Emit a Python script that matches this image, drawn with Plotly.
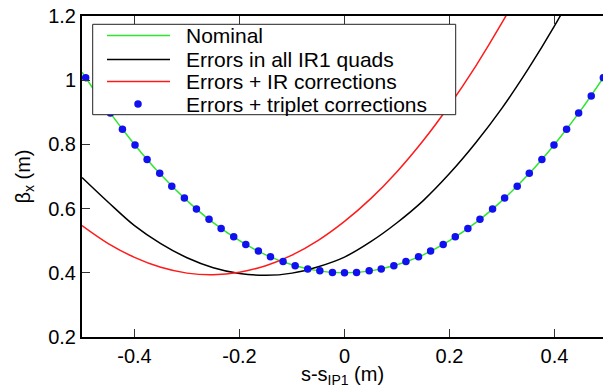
import plotly.graph_objects as go

# ---- data: horizontal beta function around IP1 ----
s_nominal = [-0.50, -0.45, -0.40, -0.35, -0.30, -0.25, -0.20, -0.15, -0.10, -0.05, 0.00,
             0.05, 0.10, 0.15, 0.20, 0.25, 0.30, 0.35, 0.40, 0.45, 0.50]
beta_nominal = [1.025, 0.906, 0.800, 0.706, 0.625, 0.556, 0.500, 0.456, 0.425, 0.406, 0.400,
                0.406, 0.425, 0.456, 0.500, 0.556, 0.625, 0.706, 0.800, 0.906, 1.025]

s_errors = [-0.50, -0.45, -0.40, -0.35, -0.30, -0.25, -0.20, -0.15, -0.10, -0.05, 0.00,
            0.05, 0.10, 0.15, 0.20, 0.25, 0.30, 0.35, 0.40, 0.45]
beta_errors = [0.697, 0.620, 0.547, 0.491, 0.447, 0.416, 0.398, 0.392, 0.399, 0.419, 0.449,
               0.497, 0.556, 0.625, 0.709, 0.805, 0.913, 1.035, 1.169, 1.316]

s_ir_corr = [-0.50, -0.45, -0.40, -0.35, -0.30, -0.25, -0.20, -0.15, -0.10, -0.05, 0.00,
             0.05, 0.10, 0.15, 0.20, 0.25, 0.30, 0.35]
beta_ir_corr = [0.547, 0.491, 0.448, 0.417, 0.399, 0.394, 0.402, 0.422, 0.455, 0.501, 0.560,
                0.631, 0.715, 0.812, 0.922, 1.044, 1.179, 1.327]

s_triplet = [-0.493, -0.470, -0.446, -0.423, -0.399, -0.376, -0.352, -0.329, -0.305, -0.282,
             -0.258, -0.235, -0.211, -0.188, -0.164, -0.141, -0.117, -0.094, -0.070, -0.047,
             -0.023, 0.000, 0.023, 0.047, 0.070, 0.094, 0.117, 0.141, 0.164, 0.188,
             0.211, 0.235, 0.258, 0.282, 0.305, 0.329, 0.352, 0.376, 0.399, 0.423,
             0.446, 0.470, 0.493]
beta_triplet = [1.008, 0.951, 0.898, 0.847, 0.798, 0.753, 0.710, 0.670, 0.633, 0.599,
                0.567, 0.538, 0.512, 0.488, 0.468, 0.450, 0.435, 0.422, 0.412, 0.406,
                0.401, 0.400, 0.401, 0.406, 0.412, 0.422, 0.435, 0.450, 0.468, 0.488,
                0.512, 0.538, 0.567, 0.599, 0.633, 0.670, 0.710, 0.753, 0.798, 0.847,
                0.898, 0.951, 1.008]

legend_labels = ["Nominal", "Errors in all IR1 quads", "Errors + IR corrections",
                 "Errors + triplet corrections"]

x_tickvals = [-0.4, -0.2, 0.0, 0.2, 0.4]
x_ticktext = ["-0.4", "-0.2", "0", "0.2", "0.4"]
y_tickvals = [0.2, 0.4, 0.6, 0.8, 1.0, 1.2]
y_ticktext = ["0.2", "0.4", "0.6", "0.8", "1", "1.2"]

# ---- layout constants ----
W, H = 603, 388
ML, MR, MT, MB = 82, 0, 16, 51
PW, PH = W - ML - MR, H - MT - MB
FONT = "Liberation Sans, Arial, Helvetica, sans-serif"

GREEN = "#2ee62e"
BLUE = "#1010f0"
RED = "#ff1a1a"
BLACK = "#000000"


def paper(px, py):
    """Convert a pixel position in the figure to paper coordinates."""
    return (px - ML) / PW, (H - MB - py) / PH


fig = go.Figure()

fig.add_trace(go.Scatter(x=s_nominal, y=beta_nominal, mode="lines",
                         line=dict(color=GREEN, width=1.5, shape="spline"),
                         name=legend_labels[0]))
fig.add_trace(go.Scatter(x=s_errors, y=beta_errors, mode="lines",
                         line=dict(color=BLACK, width=1.5, shape="spline"),
                         name=legend_labels[1]))
fig.add_trace(go.Scatter(x=s_ir_corr, y=beta_ir_corr, mode="lines",
                         line=dict(color=RED, width=1.5, shape="spline"),
                         name=legend_labels[2]))
fig.add_trace(go.Scatter(x=s_triplet, y=beta_triplet, mode="markers",
                         marker=dict(color=BLUE, size=7.5, line=dict(width=0)),
                         name=legend_labels[3]))

# ---- hand-drawn legend box ----
shapes = []
annotations = []
bx0, by0 = paper(92.7, 24.3)
bx1, by1 = paper(455.7, 114.7)
shapes.append(dict(type="rect", xref="paper", yref="paper", x0=bx0, y0=by1, x1=bx1, y1=by0,
                   line=dict(color="#222222", width=1), fillcolor="white", layer="above"))

row_y = [35.5, 59.5, 81.5, 104.0]
sample_colors = [GREEN, BLACK, RED]
for i, c in enumerate(sample_colors):
    x0, y = paper(107, row_y[i])
    x1, _ = paper(170, row_y[i])
    shapes.append(dict(type="line", xref="paper", yref="paper", x0=x0, y0=y, x1=x1, y1=y,
                       line=dict(color=c, width=1.5), layer="above"))
r = 3.75
cx0, cy0 = paper(138 - r, row_y[3] + r)
cx1, cy1 = paper(138 + r, row_y[3] - r)
shapes.append(dict(type="circle", xref="paper", yref="paper", x0=cx0, y0=cy0, x1=cx1, y1=cy1,
                   fillcolor=BLUE, line=dict(width=0), layer="above"))

for i, lab in enumerate(legend_labels):
    tx, ty = paper(184, row_y[i])
    annotations.append(dict(text=lab, x=tx, y=ty, xref="paper", yref="paper",
                            xanchor="left", yanchor="middle", showarrow=False,
                            font=dict(family=FONT, size=21, color="black")))

fig.update_layout(
    width=W, height=H,
    margin=dict(l=ML, r=MR, t=MT, b=MB, pad=0),
    paper_bgcolor="white", plot_bgcolor="white",
    showlegend=False,
    font=dict(family=FONT, size=20, color="black"),
    shapes=shapes, annotations=annotations,
    xaxis=dict(range=[-0.5, -0.5 + PW / 525.0],
               tickmode="array", tickvals=x_tickvals, ticktext=x_ticktext,
               showgrid=False, zeroline=False,
               showline=True, linewidth=2, linecolor="black", mirror="ticks",
               ticks="inside", ticklen=8, tickwidth=1, tickcolor="#333333",
               tickfont=dict(size=20),
               title=dict(text="s-s<sub>IP1</sub> (m)", font=dict(size=20), standoff=2)),
    yaxis=dict(range=[0.2, 1.2],
               tickmode="array", tickvals=y_tickvals, ticktext=y_ticktext,
               showgrid=False, zeroline=False,
               showline=True, linewidth=2, linecolor="black", mirror=False,
               ticks="inside", ticklen=8, tickwidth=1, tickcolor="#333333",
               tickfont=dict(size=20),
               title=dict(text="β<sub>x</sub> (m)", font=dict(size=20), standoff=12)),
)

fig.write_html("out.html")
